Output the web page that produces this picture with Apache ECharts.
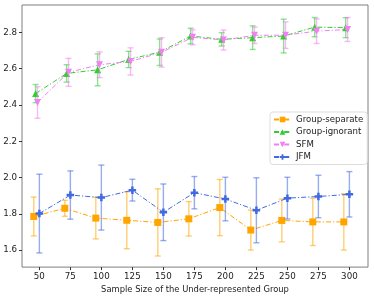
<!DOCTYPE html>
<html><head><meta charset="utf-8">
<script src="https://cdn.jsdelivr.net/npm/echarts@6/dist/echarts.min.js"></script>
<style>html,body{margin:0;padding:0;background:#fff}#c{width:374px;height:299px}</style>
</head><body><div id="c"></div>
<script>
const sizes = [50, 75, 100, 125, 150, 175, 200, 225, 250, 275, 300];
const yTicks = [1.6, 1.8, 2.0, 2.2, 2.4, 2.6, 2.8];

const sepMean = [1.786, 1.831, 1.777, 1.765, 1.753, 1.773, 1.835, 1.711, 1.764, 1.756, 1.756];
const sepErr  = [0.107, 0.044, 0.115, 0.157, 0.185, 0.095, 0.155, 0.110, 0.118, 0.130, 0.155];
const ignMean = [2.463, 2.574, 2.594, 2.651, 2.691, 2.780, 2.762, 2.771, 2.780, 2.829, 2.826];
const ignErr  = [0.050, 0.048, 0.088, 0.045, 0.073, 0.043, 0.037, 0.065, 0.093, 0.053, 0.055];
const sfmMean = [2.414, 2.580, 2.622, 2.640, 2.690, 2.773, 2.758, 2.784, 2.785, 2.807, 2.816];
const sfmErr  = [0.087, 0.077, 0.071, 0.075, 0.081, 0.041, 0.055, 0.045, 0.073, 0.068, 0.066];
const jfmMean = [1.802, 1.904, 1.890, 1.931, 1.809, 1.917, 1.882, 1.820, 1.887, 1.896, 1.908];
const jfmErr  = [0.217, 0.133, 0.179, 0.060, 0.156, 0.089, 0.120, 0.179, 0.115, 0.117, 0.125];

const names = ['Group-separate', 'Group-ignorant', 'SFM', 'JFM'];
const colors = ['#FFA500', '#32CD32', '#EE82EE', '#4169E1'];
const offsets = [-4.5, -3, -1.5, 0];
const means = [sepMean, ignMean, sfmMean, jfmMean];
const errs = [sepErr, ignErr, sfmErr, jfmErr];
const plusPath = 'path://M1,0H2V1H3V2H2V3H1V2H0V1H1Z';
const symbols = ['rect', 'triangle', 'triangle', plusPath];
const symRot = [0, 0, 180, 0];
const symSize = [7, 7, 7, 7.5];

const series = [];
for (let i = 0; i < 4; i++) {
  const errData = sizes.map((s, k) => [s + offsets[i], means[i][k] - errs[i][k], means[i][k] + errs[i][k]]);
  const col = colors[i];
  series.push({
    type: 'custom', name: names[i] + '_err', silent: true, z: 2 + i * 2,
    data: errData,
    encode: { x: 0, y: [1, 2] },
    renderItem: function (params, api) {
      const x = api.value(0);
      const lo = api.coord([x, api.value(1)]);
      const hi = api.coord([x, api.value(2)]);
      const cw = 3;
      const st = { stroke: col, lineWidth: 1.4, opacity: 0.55 };
      return { type: 'group', children: [
        { type: 'line', shape: { x1: lo[0], y1: lo[1], x2: hi[0], y2: hi[1] }, style: st },
        { type: 'line', shape: { x1: lo[0] - cw, y1: lo[1], x2: lo[0] + cw, y2: lo[1] }, style: st },
        { type: 'line', shape: { x1: hi[0] - cw, y1: hi[1], x2: hi[0] + cw, y2: hi[1] }, style: st }
      ]};
    }
  });
  series.push({
    type: 'line', name: names[i], z: 3 + i * 2,
    data: sizes.map((s, k) => [s + offsets[i], means[i][k]]),
    symbol: symbols[i], symbolSize: symSize[i], symbolRotate: symRot[i],
    showAllSymbol: true,
    lineStyle: { color: col, width: 1, type: [5, 2, 1.2, 2] },
    itemStyle: { color: col },
    emphasis: { disabled: true },
    animation: false
  });
}

const chart = echarts.init(document.getElementById('c'), null, { renderer: 'canvas' });
chart.setOption({
  animation: false,
  grid: { left: 22, right: 6, top: 5, bottom: 30, show: true, borderColor: '#7f7f7f', borderWidth: 1 },
  xAxis: {
    type: 'value', min: 36, max: 315,
    name: 'Sample Size of the Under-represented Group',
    nameLocation: 'middle', nameGap: 18,
    nameTextStyle: { fontFamily: 'DejaVu Sans', fontSize: 8.4, color: '#222' },
    splitLine: { show: false },
    axisLine: { show: false },
    axisTick: { show: true, length: 3, inside: false, lineStyle: { color: '#333' }, customValues: sizes },
    axisLabel: { customValues: sizes, fontFamily: 'DejaVu Sans', fontSize: 8.7, color: '#222', margin: 5 }
  },
  yAxis: {
    type: 'value', min: 1.507, max: 2.951,
    splitLine: { show: false },
    axisLine: { show: false },
    axisTick: { show: true, length: 3, lineStyle: { color: '#333' }, customValues: yTicks },
    axisLabel: { customValues: yTicks, fontFamily: 'DejaVu Sans', fontSize: 8.7, color: '#222', margin: 5,
      formatter: v => v.toFixed(1) }
  },
  legend: {
    data: names, left: 270, top: 112, orient: 'vertical',
    itemWidth: 17, itemHeight: 7, itemGap: 3.5,
    padding: [3, 4, 3, 3],
    backgroundColor: '#fff', borderColor: '#ddd', borderWidth: 1, borderRadius: 3,
    textStyle: { fontFamily: 'DejaVu Sans', fontSize: 8.6, color: '#222' }
  },
  series: series
});
</script></body></html>
